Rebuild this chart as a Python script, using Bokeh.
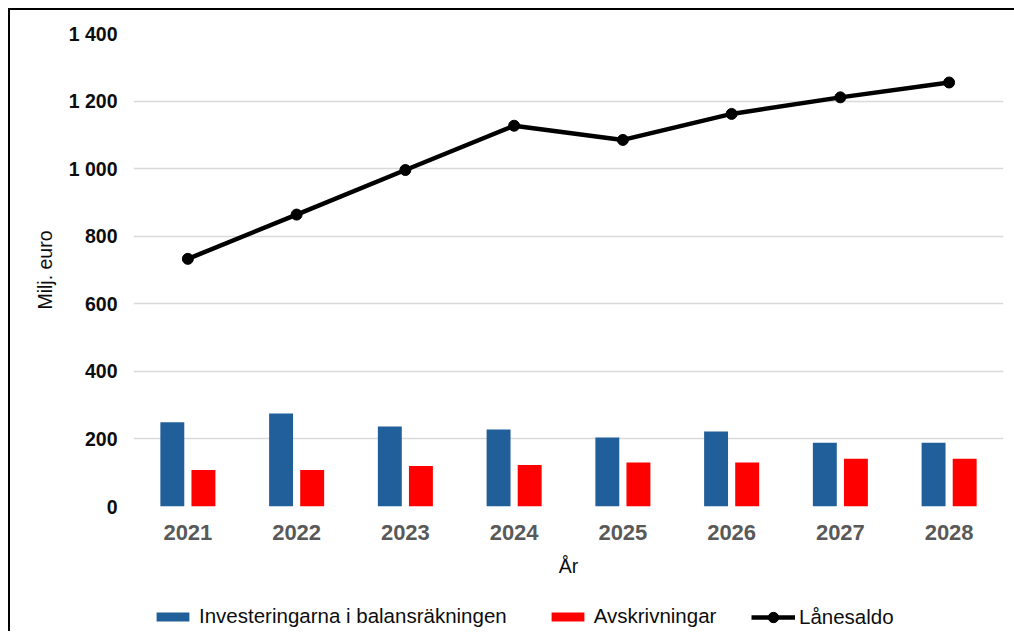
from bokeh.plotting import figure
from bokeh.layouts import column
from bokeh.models import FactorRange, Range1d, FixedTicker, Legend, LegendItem, ColumnDataSource
from bokeh.transform import dodge
from bokeh.embed import file_html
from bokeh.resources import INLINE

# ---- data ----
years = ["2021", "2022", "2023", "2024", "2025", "2026", "2027", "2028"]
investeringar = [249, 275, 237, 228, 204, 222, 189, 189]
avskrivningar = [108, 108, 120, 123, 130, 130, 141, 141]
lanesaldo = [733, 864, 996, 1127, 1085, 1162, 1211, 1255]
y_ticks = [0, 200, 400, 600, 800, 1000, 1200, 1400]
y_tick_labels = ["0", "200", "400", "600", "800", "1 000", "1 200", "1 400"]
series_names = ["Investeringarna i balansräkningen", "Avskrivningar", "Lånesaldo"]

BLUE = "#215F9A"
RED = "#FF0000"

src = ColumnDataSource(dict(year=years, inv=investeringar, avs=avskrivningar, lan=lanesaldo))
xr = FactorRange(*years, range_padding=0)


def draw_series(fig):
    r1 = fig.vbar(x=dodge("year", -0.143, range=xr), top="inv", width=0.22, source=src,
                  fill_color=BLUE, line_color=None)
    r2 = fig.vbar(x=dodge("year", 0.143, range=xr), top="avs", width=0.22, source=src,
                  fill_color=RED, line_color=None)
    r3 = fig.line(x="year", y="lan", source=src, line_color="black", line_width=4.5)
    r4 = fig.scatter(x="year", y="lan", source=src, size=11, fill_color="black", line_color="black")
    return r1, r2, r3, r4


p = figure(
    x_range=xr,
    y_range=Range1d(0, 1400),
    frame_width=870, frame_height=473,
    min_border_left=123, min_border_right=11, min_border_top=23, min_border_bottom=80,
    output_backend="svg", toolbar_location=None,
)
p.outline_line_color = None
p.background_fill_color = "white"
p.border_fill_color = "white"
draw_series(p)

# grid
p.xgrid.grid_line_color = None
p.ygrid.grid_line_color = "#d9d9d9"
p.ygrid.grid_line_width = 1.5
p.ygrid.ticker = FixedTicker(ticks=y_ticks)

# y axis
p.yaxis.ticker = FixedTicker(ticks=y_ticks)
p.yaxis.major_label_overrides = {t: l for t, l in zip(y_ticks, y_tick_labels)}
p.yaxis.axis_line_color = None
p.yaxis.major_tick_line_color = None
p.yaxis.minor_tick_line_color = None
p.yaxis.major_label_standoff = 10
p.yaxis.major_label_text_font = "Liberation Sans"
p.yaxis.major_label_text_font_style = "bold"
p.yaxis.major_label_text_font_size = "19.5px"
p.yaxis.major_label_text_color = "#0d0d0d"
p.yaxis.axis_label = "Milj. euro"
p.yaxis.axis_label_text_font = "Liberation Sans"
p.yaxis.axis_label_text_font_style = "normal"
p.yaxis.axis_label_text_font_size = "19.5px"
p.yaxis.axis_label_text_color = "#0d0d0d"
p.yaxis.axis_label_standoff = 10

# x axis
p.xaxis.axis_line_color = None
p.xaxis.major_tick_line_color = None
p.xaxis.minor_tick_line_color = None
p.xaxis.major_label_standoff = 12
p.xaxis.major_label_text_font = "Liberation Sans"
p.xaxis.major_label_text_font_style = "bold"
p.xaxis.major_label_text_font_size = "22px"
p.xaxis.major_label_text_color = "#595959"
p.xaxis.axis_label = "År"
p.xaxis.axis_label_text_font = "Liberation Sans"
p.xaxis.axis_label_text_font_style = "normal"
p.xaxis.axis_label_text_font_size = "19.5px"
p.xaxis.axis_label_text_color = "#0d0d0d"
p.xaxis.axis_label_standoff = 12

# ---- legend strip (separate figure below the chart; series kept out of its view) ----
lg = figure(
    x_range=xr, y_range=Range1d(2000, 3000),
    frame_width=1004, frame_height=45,
    min_border_left=0, min_border_right=0, min_border_top=0, min_border_bottom=0,
    x_axis_type=None, y_axis_type=None,
    output_backend="svg", toolbar_location=None,
)
lg.outline_line_color = None
lg.xgrid.grid_line_color = None
lg.ygrid.grid_line_color = None
lg.border_fill_color = "white"
l_inv, l_avs, l_line, l_pts = draw_series(lg)

common = dict(
    orientation="horizontal", padding=0, margin=0, spacing=40,
    label_text_font="Liberation Sans", label_text_font_size="20.5px", label_text_color="#0d0d0d",
    border_line_color=None, background_fill_alpha=0,
)
legend_bars = Legend(
    items=[
        LegendItem(label=series_names[0], renderers=[l_inv]),
        LegendItem(label=series_names[1], renderers=[l_avs]),
    ],
    location=(142, 3), glyph_width=41, glyph_height=11, label_standoff=6, **common,
)
legend_line = Legend(
    items=[LegendItem(label=series_names[2], renderers=[l_line, l_pts])],
    location=(741, 1), glyph_width=44, glyph_height=26, label_standoff=4, **common,
)
lg.add_layout(legend_bars)
lg.add_layout(legend_line)

layout = column(p, lg, spacing=0)
layout.styles = {"border-left": "2px solid black", "border-top": "2px solid black",
                 "border-right": "none", "border-bottom": "none",
                 "margin-left": "8px", "margin-top": "8px"}

open("out.html", "w").write(file_html(layout, INLINE))
